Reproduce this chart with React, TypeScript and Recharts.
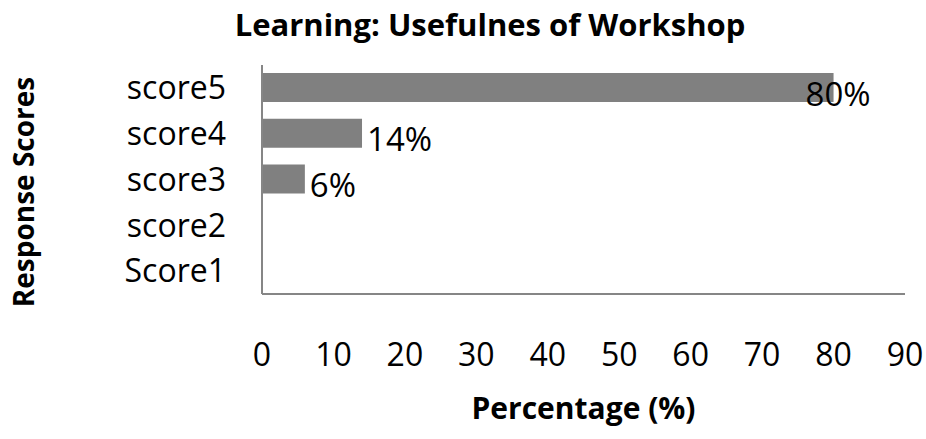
import React from 'react';
import { BarChart, Bar, XAxis, YAxis, LabelList } from 'recharts';

const categories = ['score5', 'score4', 'score3', 'score2', 'Score1'];
const percentages = [80, 14, 6, 0, 0];
const xTicks = [0, 10, 20, 30, 40, 50, 60, 70, 80, 90];

const FONT = '"Open Sans", "Liberation Sans", sans-serif';

const chartData = categories.map((name, i) => ({
  name,
  value: percentages[i],
}));

const BarValueLabel = (props: any) => {
  const { x, y, width, height, value } = props;
  if (!value) return null;
  // Excel pushes the label inside the bar end when it would run past the plot
  const tx = value > 50 ? x + width - 28 : x + width + 5;
  return (
    <text
      x={tx}
      y={y + height / 2 + 18}
      fill="#000"
      fontSize={33}
      fontFamily={FONT}
    >
      {value}%
    </text>
  );
};

const App: React.FC = () => {
  return (
    <div style={{ position: 'relative', width: 926, height: 439, background: '#fff', fontFamily: FONT }}>
      <style>{'body { margin: 0; }'}</style>
      <div
        style={{
          position: 'absolute',
          top: 6,
          left: 0,
          width: 980,
          textAlign: 'center',
          fontWeight: 700,
          fontSize: 31,
          lineHeight: '36px',
        }}
      >
        Learning: Usefulnes of Workshop
      </div>
      <div
        style={{
          position: 'absolute',
          left: 23,
          top: 192,
          transform: 'translate(-50%, -50%) rotate(-90deg)',
          whiteSpace: 'nowrap',
          fontWeight: 700,
          fontSize: 28,
        }}
      >
        Response Scores
      </div>
      <div
        style={{
          position: 'absolute',
          top: 388,
          left: 262,
          width: 643,
          textAlign: 'center',
          fontWeight: 700,
          fontSize: 30,
          lineHeight: '40px',
        }}
      >
        Percentage (%)
      </div>
      <div style={{ position: 'absolute', left: 0, top: 0 }}>
        <BarChart
          width={926}
          height={439}
          data={chartData}
          layout="vertical"
          margin={{ top: 65, right: 21, bottom: 0, left: 0 }}
          barSize={29}
        >
          <XAxis
            type="number"
            domain={[0, 90]}
            ticks={xTicks}
            interval={0}
            height={145}
            tickSize={0}
            tickMargin={49}
            tick={{ fill: '#000', fontSize: 32, fontFamily: FONT }}
            axisLine={{ stroke: '#868686', strokeWidth: 2 }}
          />
          <YAxis
            type="category"
            dataKey="name"
            width={262}
            tickSize={0}
            tickMargin={36}
            tick={{ fill: '#000', fontSize: 32, fontFamily: FONT }}
            axisLine={{ stroke: '#868686', strokeWidth: 2 }}
          />
          <Bar dataKey="value" fill="#808080" isAnimationActive={false}>
            <LabelList dataKey="value" content={BarValueLabel} />
          </Bar>
        </BarChart>
      </div>
    </div>
  );
};

export default App;
